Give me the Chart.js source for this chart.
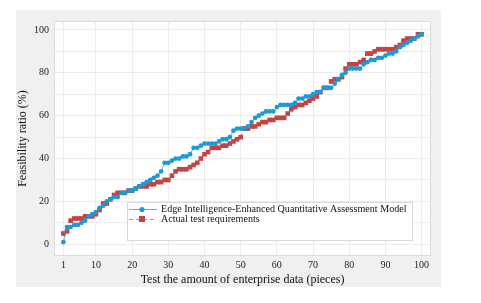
<!DOCTYPE html>
<html>
<head>
<meta charset="utf-8">
<script src="https://cdn.jsdelivr.net/npm/chart.js@4"></script>
<style>
  html,body{margin:0;padding:0;background:#fff;}
  #wrap{position:absolute;left:16px;top:10px;width:425px;height:277px;background:#f0f0f0;}
  canvas{display:block;}
</style>
</head>
<body>
<div id="wrap"><canvas id="c" width="425" height="277"></canvas></div>
<script>
const xValues = [1,2,3,4,5,6,7,8,9,10,11,12,13,14,15,16,17,18,19,20,21,22,23,24,25,26,27,28,29,30,31,32,33,34,35,36,37,38,39,40,41,42,43,44,45,46,47,48,49,50,51,52,53,54,55,56,57,58,59,60,61,62,63,64,65,66,67,68,69,70,71,72,73,74,75,76,77,78,79,80,81,82,83,84,85,86,87,88,89,90,91,92,93,94,95,96,97,98,99,100];
const modelValues = [1,8,8,9,9,10,11,13,14,15,17,18,20,21,22,22,24,24,25,25,26,27,28,29,30,31,32,34,38,38,39,40,40,41,41,42,45,45,46,47,47,47,47,48,49,49,50,53,54,54,54,55,57,59,60,61,62,62,62,64,65,65,65,65,66,68,68,69,69,70,71,71,73,73,73,75,77,79,80,82,82,82,82,84,85,86,86,87,87,88,89,89,90,92,93,94,95,96,97,98];
const actualValues = [5,6,11,12,12,12,13,13,13,14,16,19,19,21,23,24,24,24,25,25,26,27,27,27,28,28,29,29,30,30,32,34,35,35,35,36,37,38,40,42,43,45,45,45,46,46,47,48,49,50,54,54,55,55,56,57,57,58,58,59,59,59,61,63,64,65,65,66,67,68,69,71,73,73,76,77,77,78,82,84,84,84,85,86,89,89,90,91,91,91,91,91,92,93,95,96,96,96,98,98];
const xTicks = [1,10,20,30,40,50,60,70,80,90,100];
const yTicks = [0,10,20,30,40,50,60,70,80,90,100];
const yLabelStep = 20;
const seriesNames = ['Edge Intelligence-Enhanced Quantitative Assessment Model','Actual test requirements'];

const blue = '#1b9ad6';
const red = '#c44444';
const serif = '"Liberation Serif", "DejaVu Serif", serif';

const areaPlugin = {
  id: 'area',
  beforeDraw(chart) {
    const {ctx, chartArea: a} = chart;
    ctx.save();
    ctx.fillStyle = '#ffffff';
    ctx.fillRect(a.left, a.top, a.right - a.left, a.bottom - a.top);
    ctx.restore();
  },
  afterDraw(chart) {
    const {ctx, chartArea: a} = chart;
    ctx.save();
    ctx.strokeStyle = '#dcdcdc';
    ctx.lineWidth = 1;
    ctx.strokeRect(a.left + 0.5, a.top + 0.5, a.right - a.left - 1, a.bottom - a.top - 1);
    // legend
    const bx = 111, by = 192, bw = 285, bh = 38;
    ctx.fillStyle = '#ffffff';
    ctx.fillRect(bx, by, bw, bh);
    ctx.strokeStyle = '#d8d8d8';
    ctx.strokeRect(bx + 0.5, by + 0.5, bw, bh);
    const ds = chart.data.datasets;
    const rows = [199, 209];
    ds.forEach((d, i) => {
      const y = rows[i];
      ctx.strokeStyle = d.borderColor;
      ctx.lineWidth = 1;
      ctx.setLineDash(d.borderDash || []);
      ctx.beginPath();
      ctx.moveTo(113, y + 0.5);
      ctx.lineTo(141, y + 0.5);
      ctx.stroke();
      ctx.setLineDash([]);
      ctx.fillStyle = d.pointBackgroundColor;
      if (d.pointStyle === 'rect') {
        ctx.fillRect(126 - 3, y - 3, 6, 6);
      } else {
        ctx.beginPath();
        ctx.arc(126, y + 0.5, 2.6, 0, Math.PI * 2);
        ctx.fill();
      }
      ctx.fillStyle = '#111';
      ctx.font = '10.1px ' + serif;
      ctx.textBaseline = 'middle';
      ctx.textAlign = 'left';
      ctx.fillText(d.label, 145, y + 0.5);
    });
    ctx.restore();
  }
};

new Chart(document.getElementById('c'), {
  type: 'line',
  data: {
    datasets: [
      {
        label: seriesNames[0],
        data: xValues.map((x, i) => ({x: x, y: modelValues[i]})),
        borderColor: 'rgba(27,154,214,0.75)',
        borderWidth: 1,
        pointStyle: 'circle',
        pointRadius: 2.4,
        pointBorderWidth: 0,
        pointBackgroundColor: blue,
        pointBorderColor: blue,
        tension: 0
      },
      {
        label: seriesNames[1],
        data: xValues.map((x, i) => ({x: x, y: actualValues[i]})),
        borderColor: 'rgba(200,80,80,0.7)',
        borderWidth: 1,
        borderDash: [4, 3],
        pointStyle: 'rect',
        pointRadius: 3.3,
        pointBorderWidth: 0,
        pointBackgroundColor: red,
        pointBorderColor: red,
        tension: 0
      }
    ]
  },
  options: {
    responsive: false,
    animation: false,
    devicePixelRatio: 1,
    layout: {padding: {top: 10, right: 10, left: 0, bottom: 0}},
    plugins: {legend: {display: false}, tooltip: {enabled: false}},
    scales: {
      x: {
        type: 'linear',
        min: -1.6,
        max: 102.6,
        afterBuildTicks(s) { s.ticks = xTicks.map(v => ({value: v})); },
        afterFit(s) { s.height = 31; },
        grid: {color: '#ececec', drawTicks: false},
        border: {display: false},
        ticks: {font: {family: serif, size: 10}, color: '#222', padding: 3, maxRotation: 0, autoSkip: false},
        title: {display: true, text: 'Test the amount of enterprise data (pieces)', font: {family: serif, size: 12}, color: '#111', padding: {top: 0, bottom: 0}}
      },
      y: {
        type: 'linear',
        min: -5.5,
        max: 104.2,
        afterBuildTicks(s) { s.ticks = yTicks.map(v => ({value: v})); },
        afterFit(s) { s.width = 38; },
        grid: {color: '#ececec', drawTicks: false},
        border: {display: false},
        ticks: {font: {family: serif, size: 10}, color: '#222', padding: 5, autoSkip: false,
          callback: v => (v % yLabelStep === 0 ? String(v) : '')},
        title: {display: true, text: 'Feasibility ratio (%)', font: {family: serif, size: 12}, color: '#111', padding: {top: 0, bottom: 0}}
      }
    }
  },
  plugins: [areaPlugin]
});
</script>
</body>
</html>
